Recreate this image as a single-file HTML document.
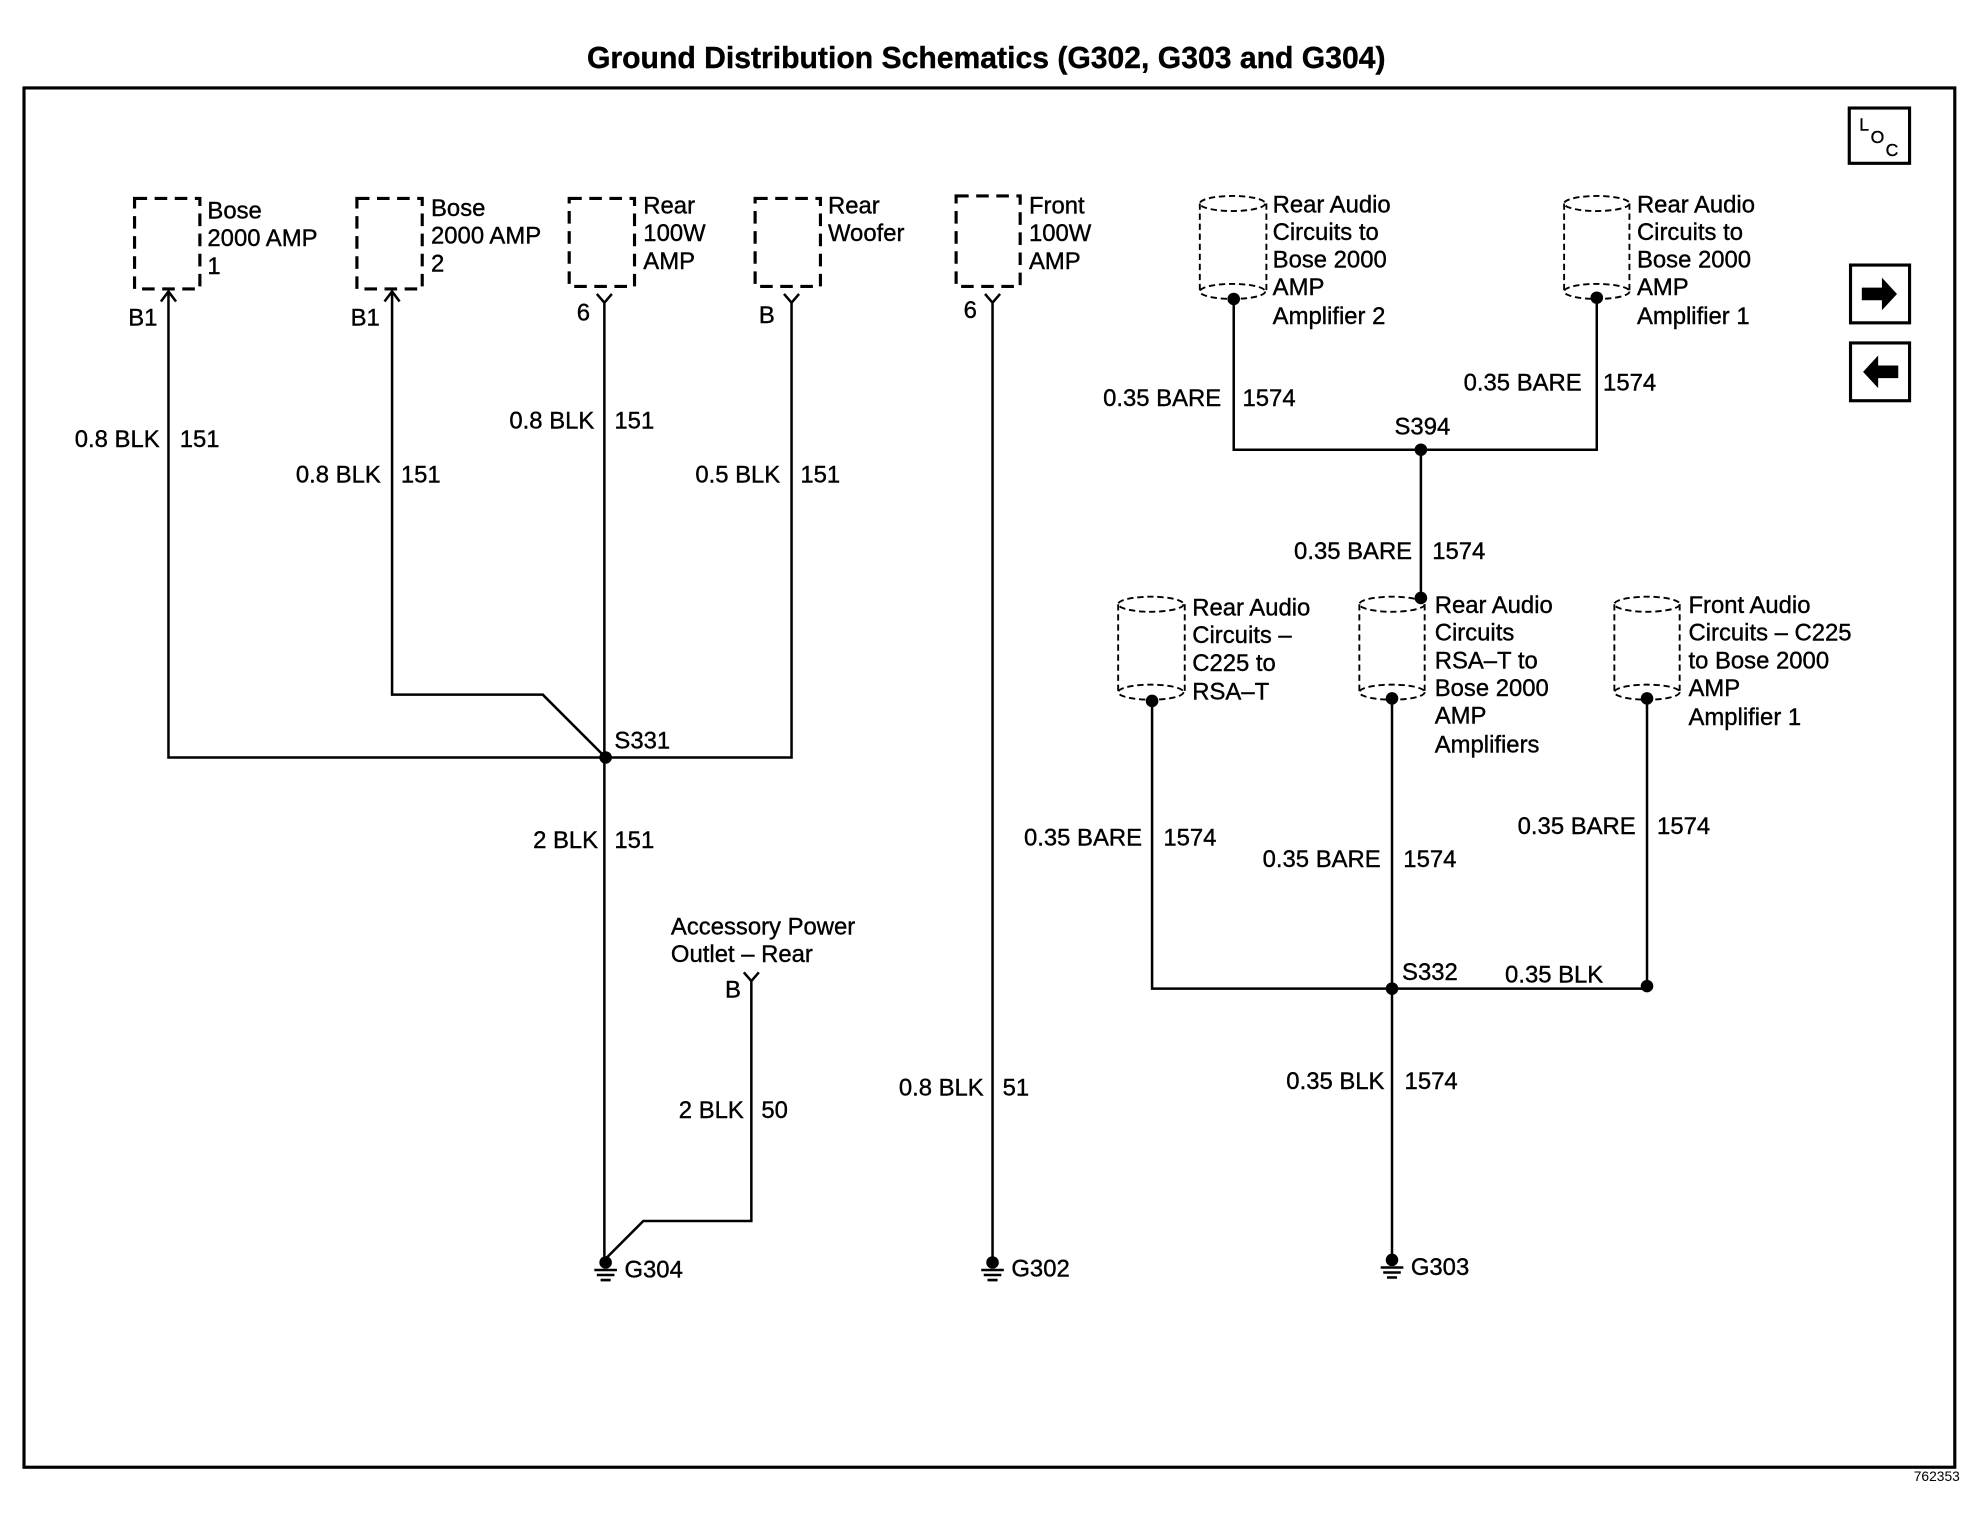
<!DOCTYPE html>
<html><head><meta charset="utf-8"><style>
html,body{margin:0;padding:0;background:#fff;}
svg{display:block;}
text{font-family:"Liberation Sans",sans-serif;font-size:19px;fill:#000;stroke:#000;stroke-width:0.3;}
</style></head><body>
<svg width="1970" height="1520" viewBox="0 0 1568 1210" xmlns="http://www.w3.org/2000/svg">
<rect width="1568" height="1210" fill="#fff"/>
<text x="785" y="54" text-anchor="middle" style="font-weight:bold;font-size:24px">Ground Distribution Schematics (G302, G303 and G304)</text>
<rect x="19" y="70" width="1537" height="1098" fill="none" stroke="#000" stroke-width="2.5"/>
<text x="1560" y="1179" text-anchor="end" style="font-size:11px;stroke-width:0">762353</text>
<!-- LOC and arrows -->
<rect x="1472" y="86" width="48" height="44" fill="none" stroke="#000" stroke-width="2.5"/>
<text x="1480" y="104" style="font-size:14px">L</text><text x="1489" y="114" style="font-size:14px">O</text><text x="1501" y="124" style="font-size:14px">C</text>
<rect x="1473" y="211" width="47" height="46" fill="none" stroke="#000" stroke-width="2.5"/>
<path d="M1482 229h16v-8l12 13-12 13v-8h-16z" fill="#000"/>
<rect x="1473" y="273" width="47" height="46" fill="none" stroke="#000" stroke-width="2.5"/>
<path d="M1511 291h-16v-8l-12 13 12 13v-8h16z" fill="#000"/>
<g fill="none" stroke="#000" stroke-width="2.5" stroke-dasharray="10,6">
<rect x="107" y="158" width="52" height="72"/>
<rect x="284" y="158" width="52" height="72"/>
<rect x="453" y="158" width="52" height="70"/>
<rect x="601" y="158" width="52" height="70"/>
<rect x="761" y="156" width="51" height="72"/>
</g>
<g fill="none" stroke="#000" stroke-width="1.5" stroke-dasharray="5,3">
<path d="M955 162v70M1008 162v70"/><ellipse cx="981" cy="162" rx="26" ry="6"/><ellipse cx="981" cy="232" rx="26" ry="6"/>
<path d="M1245 162v70M1297 162v70"/><ellipse cx="1271" cy="162" rx="26" ry="6"/><ellipse cx="1271" cy="232" rx="26" ry="6"/>
<path d="M890 481v70M943 481v70"/><ellipse cx="916" cy="481" rx="26" ry="6"/><ellipse cx="916" cy="551" rx="26" ry="6"/>
<path d="M1082 481v70M1134 481v70"/><ellipse cx="1108" cy="481" rx="26" ry="6"/><ellipse cx="1108" cy="551" rx="26" ry="6"/>
<path d="M1285 481v70M1337 481v70"/><ellipse cx="1311" cy="481" rx="26" ry="6"/><ellipse cx="1311" cy="551" rx="26" ry="6"/>
</g>
<g fill="none" stroke="#000" stroke-width="2">
<path d="M134 232v371h348M128 240l6-8 6 8"/>
<path d="M312 232v321h120l50 50M306 240l6-8 6 8"/>
<path d="M481 240v765M475 234l6 7 6-7"/>
<path d="M630 240v363h-148M624 234l6 7 6-7"/>
<path d="M790 240v765M784 234l6 7 6-7"/>
<path d="M598 780v192h-86l-30 30M592 774l6 7 6-7"/>
<path d="M982 238v120h289v-121M1131 358v118"/>
<path d="M917 558v229h394v-229M1108 556v449"/>
</g>
<g fill="#000">
<circle cx="982" cy="238" r="5"/><circle cx="1271" cy="237" r="5"/><circle cx="1131" cy="358" r="5"/><circle cx="1131" cy="476" r="5"/>
<circle cx="482" cy="603" r="5"/><circle cx="917" cy="558" r="5"/><circle cx="1108" cy="556" r="5"/><circle cx="1311" cy="556" r="5"/>
<circle cx="1108" cy="787" r="5"/><circle cx="1311" cy="785" r="5"/>
<circle cx="482" cy="1005" r="5"/><circle cx="790" cy="1005" r="5"/><circle cx="1108" cy="1003" r="5"/>
</g>
<g stroke="#000" stroke-width="2">
<path d="M473 1011h18M475 1015h14M478 1019h8"/>
<path d="M781 1011h18M783 1015h14M786 1019h8"/>
<path d="M1099 1009h18M1101 1013h14M1104 1017h8"/>
</g>
<text x="165" y="174">Bose</text><text x="165" y="196">2000 AMP</text><text x="165" y="218">1</text>
<text x="343" y="172">Bose</text><text x="343" y="194">2000 AMP</text><text x="343" y="216">2</text>
<text x="512" y="170">Rear</text><text x="512" y="192">100W</text><text x="512" y="214">AMP</text>
<text x="659" y="170">Rear</text><text x="659" y="192">Woofer</text>
<text x="819" y="170">Front</text><text x="819" y="192">100W</text><text x="819" y="214">AMP</text>
<text x="1013" y="169">Rear Audio</text><text x="1013" y="191">Circuits to</text><text x="1013" y="213">Bose 2000</text><text x="1013" y="235">AMP</text><text x="1013" y="258">Amplifier 2</text>
<text x="1303" y="169">Rear Audio</text><text x="1303" y="191">Circuits to</text><text x="1303" y="213">Bose 2000</text><text x="1303" y="235">AMP</text><text x="1303" y="258">Amplifier 1</text>
<text x="949" y="490">Rear Audio</text><text x="949" y="512">Circuits –</text><text x="949" y="534">C225 to</text><text x="949" y="557">RSA–T</text>
<text x="1142" y="488">Rear Audio</text><text x="1142" y="510">Circuits</text><text x="1142" y="532">RSA–T to</text><text x="1142" y="554">Bose 2000</text><text x="1142" y="576">AMP</text><text x="1142" y="599">Amplifiers</text>
<text x="1344" y="488">Front Audio</text><text x="1344" y="510">Circuits – C225</text><text x="1344" y="532">to Bose 2000</text><text x="1344" y="554">AMP</text><text x="1344" y="577">Amplifier 1</text>
<text x="534" y="744">Accessory Power</text><text x="534" y="766">Outlet – Rear</text>
<text x="102" y="259">B1</text><text x="279" y="259">B1</text><text x="459" y="255">6</text><text x="604" y="257">B</text><text x="767" y="253">6</text><text x="577" y="794">B</text>
<g text-anchor="end">
<text x="127" y="356">0.8 BLK</text><text x="303" y="384">0.8 BLK</text><text x="473" y="341">0.8 BLK</text><text x="621" y="384">0.5 BLK</text>
<text x="476" y="675">2 BLK</text><text x="592" y="890">2 BLK</text><text x="783" y="872">0.8 BLK</text>
<text x="972" y="323">0.35 BARE</text><text x="1259" y="311">0.35 BARE</text><text x="1124" y="445">0.35 BARE</text>
<text x="909" y="673">0.35 BARE</text><text x="1099" y="690">0.35 BARE</text><text x="1302" y="664">0.35 BARE</text>
<text x="1102" y="867">0.35 BLK</text>
</g>
<text x="143" y="356">151</text><text x="319" y="384">151</text><text x="489" y="341">151</text><text x="637" y="384">151</text>
<text x="489" y="675">151</text><text x="606" y="890">50</text><text x="798" y="872">51</text>
<text x="989" y="323">1574</text><text x="1276" y="311">1574</text><text x="1140" y="445">1574</text>
<text x="926" y="673">1574</text><text x="1117" y="690">1574</text><text x="1319" y="664">1574</text><text x="1118" y="867">1574</text>
<text x="1110" y="346">S394</text><text x="489" y="596">S331</text><text x="1116" y="780">S332</text><text x="1198" y="782">0.35 BLK</text>
<text x="497" y="1017">G304</text><text x="805" y="1016">G302</text><text x="1123" y="1015">G303</text>
</svg>
</body></html>
